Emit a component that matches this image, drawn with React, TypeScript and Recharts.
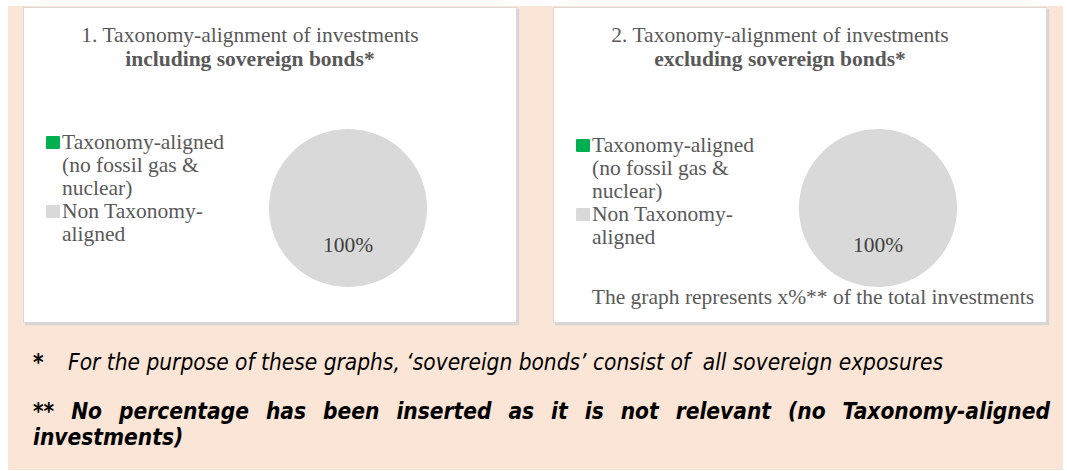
import React from 'react';
import { PieChart, Pie, Cell, Legend } from 'recharts';

const CATEGORIES = ['Taxonomy-aligned (no fossil gas & nuclear)', 'Non Taxonomy-aligned'];
const COLORS = ['#00B050', '#D9D9D9'];
const INCLUDING_VALUES = [0, 100];
const EXCLUDING_VALUES = [0, 100];

const TITLE_1 = ['1. Taxonomy-alignment of investments', 'including sovereign bonds*'];
const TITLE_2 = ['2. Taxonomy-alignment of investments', 'excluding sovereign bonds*'];
const NOTE_2 = 'The graph represents x%** of the total investments';
const FOOTNOTE_1 = 'For the purpose of these graphs, \u2018sovereign bonds\u2019 consist of \u00a0all sovereign exposures';
const FOOTNOTE_2 = '** No percentage has been inserted as it is not relevant (no Taxonomy-aligned investments)';

const SERIF = "'Liberation Serif', 'Times New Roman', serif";
const SANS = "'DejaVu Sans Condensed', 'DejaVu Sans', sans-serif";
const RADIAN = Math.PI / 180;

const renderLabel = (props: any) => {
  const { cx, cy, midAngle, outerRadius, percent } = props;
  if (!percent) return null;
  const r = outerRadius * 0.47;
  const x = cx + r * Math.cos(-midAngle * RADIAN);
  const y = cy + r * Math.sin(-midAngle * RADIAN);
  return (
    <text x={x} y={y} textAnchor="middle" dominantBaseline="central" fill="#404040"
      fontFamily={SERIF} fontSize={21.5}>
      {`${Math.round(percent * 100)}%`}
    </text>
  );
};

const LegendContent = (props: any) => {
  const items = props.payload && props.payload.length
    ? props.payload
    : CATEGORIES.map((c, i) => ({ value: c, color: COLORS[i] }));
  return (
    <div style={{ fontFamily: SERIF, fontSize: 21.5, lineHeight: '23px', color: '#595959' }}>
      {items.map((it: any, i: number) => (
        <div key={i} style={{ position: 'relative', paddingLeft: 16 }}>
          <span style={{ position: 'absolute', left: 0, top: 5, width: 14, height: 13,
            background: it.color || COLORS[i], borderRadius: 1 }} />
          {it.value}
        </div>
      ))}
    </div>
  );
};

const Panel = ({ left, title, values, legendTop, note }: any) => {
  const data = CATEGORIES.map((name, i) => ({ name, value: values[i] }));
  return (
    <div style={{ position: 'absolute', left, top: 7, width: 494, height: 316, boxSizing: 'border-box',
      background: '#fff', border: '1px solid #D9D9D9', boxShadow: '2px 2px 1px #D6D6D6' }}>
      <div style={{ position: 'absolute', left: 0, width: 452, top: 15, textAlign: 'center',
        fontFamily: SERIF, fontSize: 21.5, lineHeight: '24px', color: '#595959' }}>
        <div>{title[0]}</div>
        <div style={{ fontWeight: 'bold' }}>{title[1]}</div>
      </div>
      <PieChart width={492} height={314} margin={{ top: 0, right: 0, bottom: 0, left: 0 }}>
        <Pie data={data} dataKey="value" nameKey="name" cx={324} cy={200} outerRadius={79}
          startAngle={90} endAngle={-270} stroke="none" label={renderLabel} labelLine={false}
          isAnimationActive={false}>
          {data.map((d, i) => <Cell key={i} fill={COLORS[i]} />)}
        </Pie>
        <Legend layout="vertical" align="center" verticalAlign="middle" content={<LegendContent />}
          itemSorter={(item: any) => CATEGORIES.indexOf(item.value)}
          wrapperStyle={{ left: 22, top: legendTop, width: 180 }} />
      </PieChart>
      {note && (
        <div style={{ position: 'absolute', left: 0, width: 518, top: 277, textAlign: 'center',
          fontFamily: SERIF, fontSize: 21.5, color: '#595959' }}>{note}</div>
      )}
    </div>
  );
};

export default function App() {
  return (
    <div style={{ position: 'absolute', left: 0, top: 0, width: 1067, height: 471, background: '#fff' }}>
      <div style={{ position: 'absolute', left: 8, top: 6, width: 1055, height: 464, background: '#FBE5D6' }} />
      <Panel left={23} title={TITLE_1} values={INCLUDING_VALUES} legendTop={123} />
      <Panel left={553} title={TITLE_2} values={EXCLUDING_VALUES} legendTop={126} note={NOTE_2} />
      <div style={{ position: 'absolute', left: 33, top: 349, width: 1017, fontFamily: SANS, fontSize: 22.5,
        fontStyle: 'italic', color: '#000' }}>
        <span style={{ fontWeight: 'bold', display: 'inline-block', width: 35 }}>*</span>{FOOTNOTE_1}
      </div>
      <div style={{ position: 'absolute', left: 33, top: 398, width: 1017, fontFamily: SANS, fontSize: 22.5,
        fontStyle: 'italic', fontWeight: 'bold', lineHeight: '26px', textAlign: 'justify', color: '#000' }}>
        {FOOTNOTE_2}
      </div>
    </div>
  );
}
